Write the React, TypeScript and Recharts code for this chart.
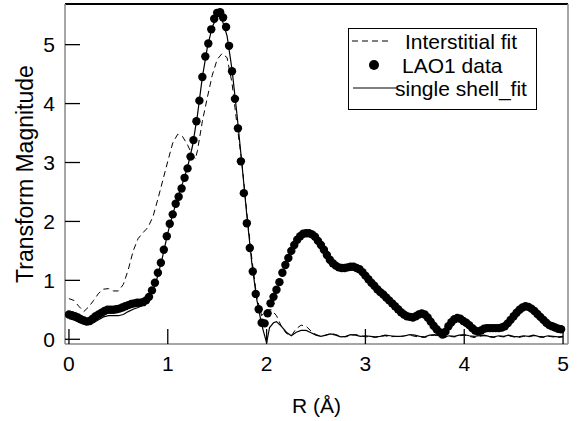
import { ComposedChart, Line, XAxis, YAxis, ReferenceLine, Legend, Label } from 'recharts'

// R (Å) vs transform magnitude
const lao1Data = [
  [0.00, 0.42], [0.03, 0.41], [0.06, 0.39], [0.09, 0.37], [0.12, 0.34], [0.15, 0.32], [0.18, 0.30], [0.21, 0.31],
  [0.24, 0.35], [0.27, 0.39], [0.30, 0.42], [0.33, 0.45], [0.36, 0.48], [0.39, 0.50], [0.42, 0.50], [0.45, 0.50],
  [0.48, 0.51], [0.51, 0.52], [0.54, 0.54], [0.57, 0.56], [0.60, 0.58], [0.63, 0.60], [0.66, 0.61], [0.69, 0.62],
  [0.72, 0.62], [0.75, 0.63], [0.78, 0.66], [0.81, 0.72], [0.84, 0.83], [0.87, 0.96], [0.90, 1.13], [0.93, 1.30],
  [0.96, 1.52], [0.99, 1.75], [1.02, 1.96], [1.05, 2.12], [1.08, 2.30], [1.11, 2.42], [1.14, 2.56], [1.17, 2.74],
  [1.20, 2.90], [1.23, 3.10], [1.26, 3.38], [1.29, 3.70], [1.32, 4.05], [1.35, 4.45], [1.38, 4.80], [1.41, 5.02],
  [1.44, 5.26], [1.47, 5.44], [1.50, 5.54], [1.53, 5.55], [1.56, 5.46], [1.59, 5.30], [1.62, 4.98], [1.65, 4.55],
  [1.68, 4.08], [1.71, 3.58], [1.74, 3.02], [1.77, 2.48], [1.80, 1.97], [1.83, 1.55], [1.86, 1.15], [1.89, 0.77],
  [1.92, 0.51], [1.95, 0.28], [1.98, 0.27], [2.01, 0.44], [2.04, 0.61], [2.07, 0.72], [2.10, 0.84], [2.13, 0.97],
  [2.16, 1.13], [2.19, 1.26], [2.22, 1.38], [2.25, 1.50], [2.28, 1.60], [2.31, 1.69], [2.34, 1.75], [2.37, 1.79],
  [2.40, 1.80], [2.43, 1.80], [2.46, 1.78], [2.49, 1.74], [2.52, 1.67], [2.55, 1.60], [2.58, 1.52], [2.61, 1.43],
  [2.64, 1.35], [2.67, 1.29], [2.70, 1.25], [2.73, 1.22], [2.76, 1.21], [2.79, 1.21], [2.82, 1.22], [2.85, 1.23],
  [2.88, 1.23], [2.91, 1.21], [2.94, 1.19], [2.97, 1.14], [3.00, 1.08], [3.03, 1.02], [3.06, 0.96], [3.09, 0.91],
  [3.12, 0.85], [3.15, 0.80], [3.18, 0.76], [3.21, 0.71], [3.24, 0.66], [3.27, 0.61], [3.30, 0.56], [3.33, 0.51],
  [3.36, 0.46], [3.39, 0.42], [3.42, 0.39], [3.45, 0.38], [3.48, 0.37], [3.51, 0.39], [3.54, 0.42], [3.57, 0.44],
  [3.60, 0.42], [3.63, 0.37], [3.66, 0.30], [3.69, 0.23], [3.72, 0.17], [3.75, 0.12], [3.78, 0.08], [3.81, 0.13],
  [3.84, 0.22], [3.87, 0.29], [3.90, 0.34], [3.93, 0.36], [3.96, 0.35], [3.99, 0.31], [4.02, 0.28], [4.05, 0.24],
  [4.08, 0.19], [4.11, 0.15], [4.14, 0.13], [4.17, 0.15], [4.20, 0.18], [4.23, 0.19], [4.26, 0.19], [4.29, 0.19],
  [4.32, 0.19], [4.35, 0.19], [4.38, 0.20], [4.41, 0.22], [4.44, 0.27], [4.47, 0.33], [4.50, 0.39], [4.53, 0.45],
  [4.56, 0.50], [4.59, 0.54], [4.62, 0.56], [4.65, 0.55], [4.68, 0.52], [4.71, 0.48], [4.74, 0.43], [4.77, 0.38],
  [4.80, 0.33], [4.83, 0.28], [4.86, 0.24], [4.89, 0.22], [4.92, 0.20], [4.95, 0.18], [4.98, 0.17],
].map(([r, v]) => ({ r, v }))

const shellFit = [
  [0.00, 0.35], [0.05, 0.33], [0.10, 0.29], [0.15, 0.26], [0.20, 0.25], [0.25, 0.28], [0.30, 0.33], [0.35, 0.38],
  [0.40, 0.40], [0.45, 0.40], [0.50, 0.40], [0.55, 0.42], [0.60, 0.47], [0.65, 0.51], [0.70, 0.54], [0.75, 0.58],
  [0.80, 0.68], [0.85, 0.82], [0.90, 1.08], [0.95, 1.42], [1.00, 1.80], [1.05, 2.12], [1.10, 2.40], [1.15, 2.65],
  [1.20, 2.92], [1.25, 3.28], [1.30, 3.80], [1.35, 4.45], [1.40, 4.95], [1.45, 5.30], [1.50, 5.48], [1.53, 5.48],
  [1.55, 5.42], [1.60, 5.15], [1.65, 4.58], [1.70, 3.82], [1.75, 2.98], [1.80, 2.10], [1.85, 1.30], [1.90, 0.68],
  [1.95, 0.25], [2.00, -0.06], [2.03, 0.20], [2.07, 0.28], [2.10, 0.30], [2.15, 0.22], [2.20, 0.12], [2.25, 0.06],
  [2.30, 0.12], [2.35, 0.15], [2.40, 0.15], [2.45, 0.11], [2.50, 0.07], [2.55, 0.05], [2.60, 0.07], [2.65, 0.09],
  [2.70, 0.07], [2.75, 0.04], [2.80, 0.05], [2.85, 0.08], [2.90, 0.07], [2.95, 0.05], [3.00, 0.06], [3.05, 0.05],
  [3.10, 0.04], [3.15, 0.05], [3.20, 0.07], [3.25, 0.06], [3.30, 0.05], [3.35, 0.05], [3.40, 0.06], [3.45, 0.08],
  [3.50, 0.07], [3.55, 0.05], [3.60, 0.04], [3.65, 0.07], [3.70, 0.08], [3.75, 0.06], [3.80, 0.04], [3.85, 0.06],
  [3.90, 0.05], [3.95, 0.07], [4.00, 0.08], [4.05, 0.06], [4.10, 0.05], [4.15, 0.06], [4.20, 0.07], [4.25, 0.05],
  [4.30, 0.04], [4.35, 0.06], [4.40, 0.05], [4.45, 0.07], [4.50, 0.05], [4.55, 0.04], [4.60, 0.06], [4.65, 0.05],
  [4.70, 0.07], [4.75, 0.05], [4.80, 0.04], [4.85, 0.06], [4.90, 0.05], [4.95, 0.04], [5.00, 0.05],
].map(([r, v]) => ({ r, v }))

const interstitialFit = [
  [0.00, 0.69], [0.05, 0.66], [0.10, 0.56], [0.15, 0.47], [0.20, 0.55], [0.25, 0.66], [0.30, 0.78], [0.35, 0.85],
  [0.40, 0.86], [0.45, 0.82], [0.50, 0.82], [0.55, 0.93], [0.60, 1.18], [0.65, 1.50], [0.70, 1.71], [0.75, 1.81],
  [0.80, 1.90], [0.85, 2.08], [0.90, 2.38], [0.95, 2.70], [1.00, 3.02], [1.05, 3.33], [1.10, 3.48], [1.15, 3.44],
  [1.20, 3.30], [1.25, 3.12], [1.28, 3.06], [1.30, 3.20], [1.35, 3.70], [1.40, 4.10], [1.45, 4.48], [1.50, 4.75],
  [1.55, 4.85], [1.60, 4.78], [1.65, 4.35], [1.70, 3.65], [1.75, 3.00], [1.80, 2.15], [1.85, 1.38], [1.90, 0.72],
  [1.95, 0.40], [2.00, 0.50], [2.05, 0.50], [2.10, 0.40], [2.15, 0.22], [2.20, 0.10], [2.25, 0.06], [2.30, 0.18],
  [2.35, 0.24], [2.40, 0.22], [2.45, 0.14], [2.50, 0.08], [2.55, 0.05], [2.60, 0.07], [2.65, 0.10], [2.70, 0.08],
  [2.75, 0.05], [2.80, 0.04], [2.85, 0.07], [2.90, 0.08], [2.95, 0.06], [3.00, 0.04], [3.05, 0.05], [3.10, 0.03],
  [3.15, 0.05], [3.20, 0.06], [3.25, 0.04], [3.30, 0.05], [3.35, 0.04], [3.40, 0.06], [3.45, 0.07], [3.50, 0.05],
  [3.55, 0.04], [3.60, 0.03], [3.65, 0.06], [3.70, 0.07], [3.75, 0.05], [3.80, 0.03], [3.85, 0.05], [3.90, 0.04],
  [3.95, 0.06], [4.00, 0.07], [4.05, 0.05], [4.10, 0.03], [4.15, 0.05], [4.20, 0.06], [4.25, 0.04], [4.30, 0.03],
  [4.35, 0.05], [4.40, 0.04], [4.45, 0.06], [4.50, 0.04], [4.55, 0.03], [4.60, 0.05], [4.65, 0.04], [4.70, 0.06],
  [4.75, 0.04], [4.80, 0.03], [4.85, 0.05], [4.90, 0.04], [4.95, 0.03], [5.00, 0.04],
].map(([r, v]) => ({ r, v }))

const xTicks = [0, 1, 2, 3, 4, 5]
const yTicks = [0, 1, 2, 3, 4, 5]
const xDomain = [-0.04, 5.05]
const yDomain = [-0.08, 5.69]

const FONT = 'Arial, "Liberation Sans", sans-serif'

function LegendBox() {
  return (
    <div style={{ width: 189, height: 82, border: '1px solid #000', background: '#fff', boxSizing: 'border-box' }}>
      <svg width={187} height={80} style={{ display: 'block' }} fontFamily={FONT} fontSize={21}>
        <line x1={3} y1={12} x2={42} y2={12} stroke="#000" strokeWidth={1} strokeDasharray="6 4" />
        <text x={56} y={20} fill="#000">Interstitial fit</text>
        <circle cx={25} cy={36} r={5} fill="#000" />
        <text x={53} y={44} fill="#000">LAO1 data</text>
        <line x1={4} y1={59} x2={47} y2={59} stroke="#000" strokeWidth={1.2} />
        <text x={46} y={67} fill="#000">single shell_fit</text>
      </svg>
    </div>
  )
}

export default function App() {
  return (
    <div style={{ width: 577, height: 421, background: '#fff' }}>
      <style>{'body{margin:0}'}</style>
      <ComposedChart width={577} height={421} margin={{ top: 4, right: 9, left: 8, bottom: 0 }} style={{ fontFamily: FONT }}>
        <XAxis
          dataKey="r"
          type="number"
          domain={xDomain}
          ticks={xTicks}
          allowDataOverflow
          height={77}
          axisLine={{ stroke: '#888', strokeWidth: 1.5 }}
          tickLine={{ stroke: '#000', strokeWidth: 1.3 }}
          tickSize={-15}
          tickMargin={27}
          tick={{ fill: '#000', fontSize: 21 }}
        >
          <Label
            content={({ viewBox }: any) => (
              <text x={viewBox.x + viewBox.width / 2} y={413} textAnchor="middle" fontSize={21} fill="#000">R (Å)</text>
            )}
          />
        </XAxis>
        <YAxis
          type="number"
          domain={yDomain}
          ticks={yTicks}
          allowDataOverflow
          width={57}
          axisLine={{ stroke: '#888', strokeWidth: 1.5 }}
          tickLine={{ stroke: '#000', strokeWidth: 1.3 }}
          tickSize={-15}
          tickMargin={25}
          tick={{ fill: '#000', fontSize: 21 }}
        >
          <Label
            content={() => (
              <text x={25} y={174} transform="rotate(-90 25 174)" textAnchor="middle" dominantBaseline="central" fontSize={23} fill="#000">
                Transform Magnitude
              </text>
            )}
          />
        </YAxis>
        <ReferenceLine y={yDomain[1]} stroke="#000" strokeWidth={2} />
        <ReferenceLine x={xDomain[1]} stroke="#888" strokeWidth={1.5} />
        <Line
          data={lao1Data}
          dataKey="v"
          stroke="none"
          dot={{ r: 4.2, fill: '#000', stroke: 'none' }}
          activeDot={false}
          isAnimationActive={false}
        />
        <Line
          data={interstitialFit}
          dataKey="v"
          type="linear"
          stroke="#000"
          strokeWidth={1}
          strokeDasharray="6 4"
          dot={false}
          activeDot={false}
          isAnimationActive={false}
        />
        <Line
          data={shellFit}
          dataKey="v"
          type="linear"
          stroke="#000"
          strokeWidth={1.2}
          dot={false}
          activeDot={false}
          isAnimationActive={false}
        />
        <Legend
          layout="vertical"
          align="center"
          verticalAlign="middle"
          wrapperStyle={{ top: 28, left: 348, width: 189 }}
          content={() => <LegendBox />}
        />
      </ComposedChart>
    </div>
  )
}
